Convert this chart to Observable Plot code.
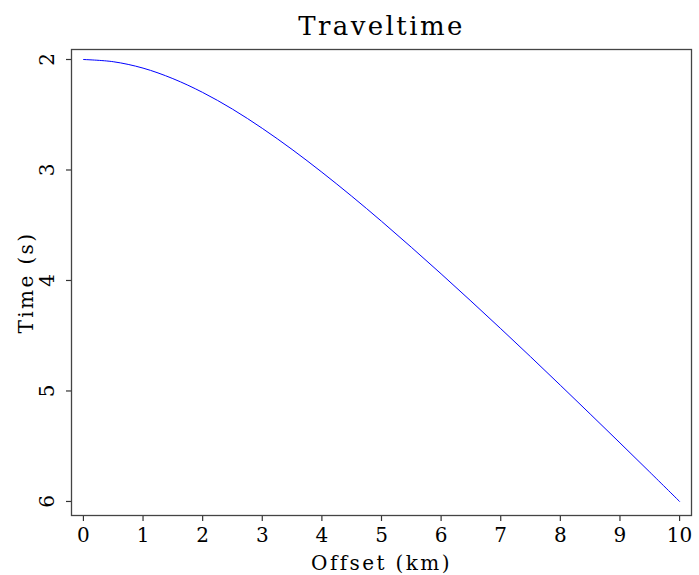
<!DOCTYPE html>
<html>
<head>
<meta charset="utf-8">
<script src="https://cdn.jsdelivr.net/npm/d3@7"></script>
<script src="https://cdn.jsdelivr.net/npm/@observablehq/plot@0.6"></script>
<style>
  html, body { margin: 0; padding: 0; background: #fff; }
  svg { display: block; }
</style>
</head>
<body>
<div id="chart"></div>
<script>
// Data
const offsets = [0, 0.5, 1, 1.5, 2, 2.5, 3, 3.5, 4, 4.5, 5, 5.5, 6, 6.5, 7, 7.5, 8, 8.5, 9, 9.5, 10];
const times   = [2.000, 2.020, 2.078, 2.173, 2.298, 2.449, 2.623, 2.814, 3.020, 3.237, 3.464,
                 3.699, 3.940, 4.186, 4.436, 4.690, 4.948, 5.208, 5.470, 5.734, 6.000];
const xTicks = [0, 1, 2, 3, 4, 5, 6, 7, 8, 9, 10];
const yTicks = [2, 3, 4, 5, 6];
const title = "Traveltime";
const xLabel = "Offset (km)";
const yLabel = "Time (s)";

const data = offsets.map((x, i) => ({x, t: times[i]}));
const font = "DejaVu Serif";

const chart = Plot.plot({
  width: 699,
  height: 575,
  marginLeft: 71,
  marginRight: 8,
  marginTop: 49,
  marginBottom: 60,
  style: {fontFamily: font, background: "#fff"},
  x: {domain: [-0.2, 10.2], axis: null},
  y: {domain: [1.9095, 6.127], reverse: true, axis: null},
  marks: [
    Plot.line(data, {x: "x", y: "t", stroke: "#0000ff", strokeWidth: 1, curve: "catmull-rom"}),
    Plot.axisX(xTicks, {anchor: "bottom", tickSize: 6, tickPadding: 6, fontSize: 20, label: null, stroke: "#333", strokeWidth: 1.2, color: "#000", tickFormat: d => String(d)}),
    Plot.axisY(yTicks, {anchor: "left", tickSize: 5, tick: true, text: null, label: null, stroke: "#333", strokeWidth: 1.2}),
    Plot.text(yTicks, {y: d => d, text: d => String(d), frameAnchor: "left", dx: -18, rotate: -90,
      textAnchor: "middle", lineAnchor: "bottom", fontSize: 20, fill: "#000"}),
    Plot.frame({stroke: "#444", strokeWidth: 1.3}),
    Plot.text([title], {frameAnchor: "top", dy: -15, lineAnchor: "bottom", textAnchor: "middle", fontSize: 26,
      fill: "#000", fontFamily: font}),
    Plot.text([xLabel], {frameAnchor: "bottom", dy: 54, lineAnchor: "bottom", textAnchor: "middle", fontSize: 20,
      fill: "#000"}),
    Plot.text([yLabel], {frameAnchor: "left", dx: -39, rotate: -90, lineAnchor: "bottom", textAnchor: "middle", fontSize: 20,
      fill: "#000"})
  ]
});
// widen letter spacing like the reference's stroke font
d3.select(chart).selectAll("text").each(function() {
  const t = this.textContent;
  if (t === title || t === xLabel || t === yLabel) this.setAttribute("letter-spacing", "2.4px");
});
document.getElementById("chart").appendChild(chart);
</script>
</body>
</html>
